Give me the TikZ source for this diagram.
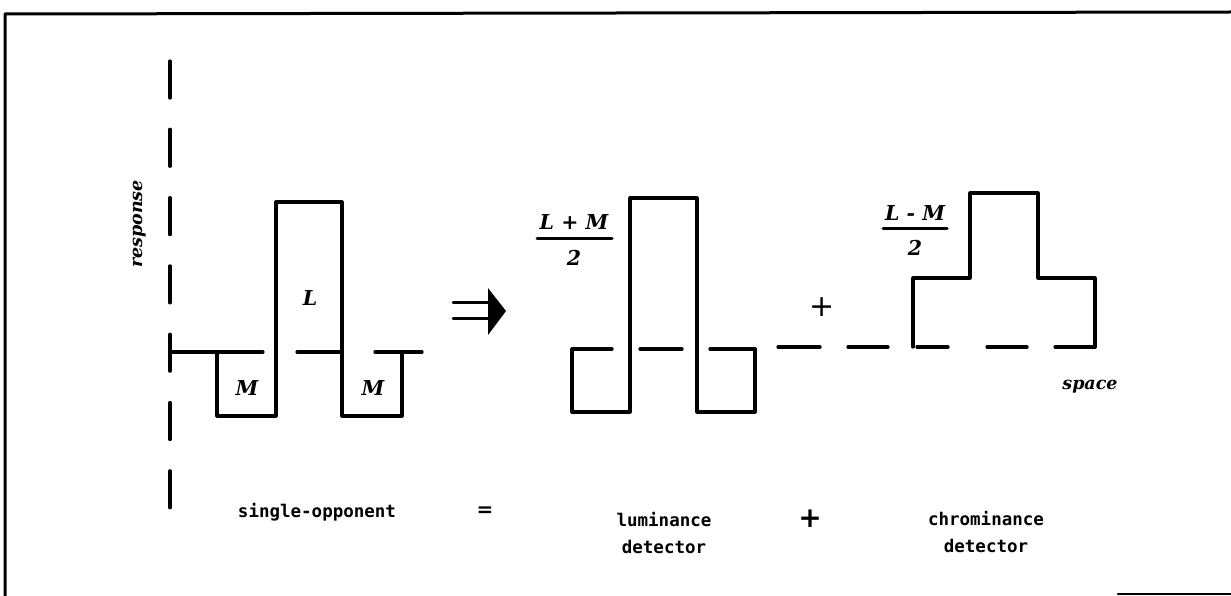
\documentclass[tikz,border=0pt]{standalone}
\usepackage{fontspec}
\setmainfont{DejaVu Serif}
\setmonofont{DejaVu Sans Mono}
\newfontfamily\symfont{DejaVu Sans}
\begin{document}
\begin{tikzpicture}[x=1pt,y=-1pt,line cap=round,line join=round,
  curve/.style={line width=3.2pt},
  axis/.style={line width=3.2pt,dash pattern=on 37pt off 31.3pt},
  lab/.style={font=\fontsize{17.5}{20}\selectfont\bfseries\itshape,inner sep=0pt},
  biglab/.style={font=\fontsize{20.5}{22}\selectfont\bfseries\itshape,inner sep=0pt},
  capt/.style={font=\fontsize{17.5}{27}\selectfont\ttfamily\bfseries,inner sep=0pt,align=center},
  sym/.style={font=\fontsize{30}{30}\selectfont\symfont,inner sep=0pt}]
  \useasboundingbox (0,0) rectangle (1231,596);
  % frame
  \draw[line width=3pt] (5,596) -- (5,14) -- (1231,12);
  \draw[line width=2.5pt] (1118,594) -- (1231,594);
  % response axis
  \draw[axis] (170,61) -- (170,509);
  \node[lab,rotate=90] (resp) at (140,224) {response};
  % single-opponent profile
  \draw[curve] (170,352) -- (263,352) (297,352) -- (340,352) (375,352) -- (422,352);
  \draw[curve] (217,352) -- (217,416) -- (276,416) -- (276,202) -- (342,202)
    -- (342,416) -- (402,416) -- (402,352);
  \node[biglab] (cL) at (310,298) {L};
  \node[biglab] (cM1) at (247,388) {M};
  \node[biglab] (cM2) at (373,388) {M};
  % big arrow
  \draw[line width=3pt] (453,302) -- (489,302) (453,318) -- (489,318);
  \fill (488,288) -- (506,311) -- (488,335) -- cycle;
  % luminance profile
  \draw[curve] (572,349) -- (612,349) (640,349) -- (682,349) (710,349) -- (755,349);
  \draw[curve] (572,349) -- (572,412) -- (630,412) -- (630,198) -- (697,198)
    -- (697,412) -- (755,412) -- (755,349);
  \node[biglab] (lumnum) at (574,222) {L + M};
  \node[biglab] (lumden) at (574,258) {2};
  \draw[line width=3pt] (537,238) -- (612,238);
  \node[sym] (plus1) at (822,307) {+};
  % chrominance profile
  \draw[curve] (778,347) -- (820,347) (848,347) -- (888,347) (917,347) -- (948,347)
    (987,347) -- (1027,347) (1055,347) -- (1095,347);
  \draw[curve] (913,347) -- (913,278) -- (970,278) -- (970,193) -- (1038,193)
    -- (1038,278) -- (1095,278) -- (1095,347);
  \node[biglab] (chrnum) at (915,213) {L - M};
  \node[biglab] (chrden) at (915,248) {2};
  \draw[line width=3pt] (883,228) -- (947,228);
  \node[lab] (space) at (1090,387) {space};
  % captions
  \node[capt] (single) at (317,512) {single-opponent};
  \node[sym,font=\fontsize{20}{20}\selectfont\symfont\bfseries] (eq) at (485,512) {=};
  \node[capt] (lum) at (664,533) {luminance\\detector};
  \node[sym,font=\fontsize{28}{28}\selectfont\symfont\bfseries] (plus2) at (810,519) {+};
  \node[capt] (chr) at (986,532) {chrominance\\detector};
\end{tikzpicture}
\end{document}
